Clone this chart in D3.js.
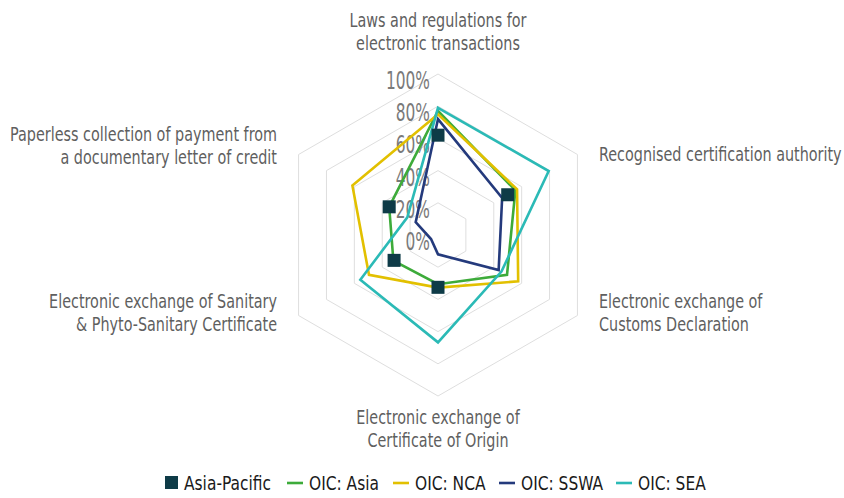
<!DOCTYPE html>
<html>
<head>
<meta charset="utf-8">
<script src="https://cdn.jsdelivr.net/npm/d3@7"></script>
<style>
  body { margin: 0; background: #fff; }
  svg text { font-family: "DejaVu Sans Condensed", "DejaVu Sans", sans-serif; }
</style>
</head>
<body>
<script>
const w = 844;
const h = 498;

// axes, clockwise from the top
const axes = [
  ["Laws and regulations for", "electronic transactions"],
  ["Recognised certification authority"],
  ["Electronic exchange of", "Customs Declaration"],
  ["Electronic exchange of", "Certificate of Origin"],
  ["Electronic exchange of Sanitary", "& Phyto-Sanitary Certificate"],
  ["Paperless collection of payment from", "a documentary letter of credit"]
];

const seriesNames = ["Asia-Pacific", "OIC: Asia", "OIC: NCA", "OIC: SSWA", "OIC: SEA"];

// values as share (0..1), same order as axes
const asiaPacific = [0.62, 0.50, null, 0.325, 0.315, 0.35];
const oicAsia = [0.77, 0.555, 0.495, 0.306, 0.32, 0.35];
const oicNCA = [0.75, 0.567, 0.575, 0.327, 0.495, 0.614];
const oicSSWA = [0.72, 0.46, 0.435, 0.12, 0.05, 0.16];
const oicSEA = [0.79, 0.794, 0.455, 0.667, 0.557, 0.22];

const ticks = [0, 0.2, 0.4, 0.6, 0.8, 1];

const colors = {
  "Asia-Pacific": "#0e3b47",
  "OIC: Asia": "#3dab3a",
  "OIC: NCA": "#e2c000",
  "OIC: SSWA": "#243a7c",
  "OIC: SEA": "#2bbab6"
};

const cx = 438;
const cy = 235;
const R = 161;

const r = d3.scaleLinear().domain([0, 1]).range([0, R]);
const angle = d3.scaleLinear().domain([0, axes.length]).range([0, 2 * Math.PI]);

function px(i, v) { return cx + r(v) * Math.sin(angle(i)); }
function py(i, v) { return cy - r(v) * Math.cos(angle(i)); }

const svg = d3.select("body").
append("svg").
attr("width", w).
attr("height", h);

// the original uses a narrow typeface, so squeeze text horizontally
function squeezeFactor(sample, size, target) {
  const t = svg.append("text").attr("font-size", size).text(sample);
  const len = t.node().getComputedTextLength();
  t.remove();
  return target / len;
}

const kCat = squeezeFactor("Paperless collection of payment from", 19, 267);
const kTick = squeezeFactor("100%", 24, 44);
const kLeg = squeezeFactor("Asia-Pacific", 19, 87);

// grid rings
const ring = d3.lineRadial().
angle((d, i) => angle(i)).
radius(d => r(d)).
curve(d3.curveLinearClosed);

svg.append("g").
attr("transform", "translate(" + cx + "," + cy + ")").
selectAll("path").
data(ticks.filter(t => t > 0)).
enter().
append("path").
attr("d", t => ring(axes.map(() => t))).
attr("fill", "none").
attr("stroke", "#dedede").
attr("stroke-width", 1);

// tick labels
svg.append("g").
selectAll("text").
data(ticks).
enter().
append("text").
attr("transform", "scale(" + kTick + ",1)").
attr("x", (cx - 8) / kTick).
attr("y", t => cy - r(t) + 15).
attr("text-anchor", "end").
attr("font-size", 24).
attr("fill", "#7a7a7a").
text(d3.format(".0%"));

// series lines
const lineSeries = [
  ["OIC: Asia", oicAsia],
  ["OIC: NCA", oicNCA],
  ["OIC: SSWA", oicSSWA],
  ["OIC: SEA", oicSEA]
];

svg.append("g").
attr("transform", "translate(" + cx + "," + cy + ")").
selectAll("path").
data(lineSeries).
enter().
append("path").
attr("d", d => ring(d[1])).
attr("fill", "none").
attr("stroke", d => colors[d[0]]).
attr("stroke-width", 2.6).
attr("stroke-linejoin", "miter");

// Asia-Pacific markers
const ms = 13;
svg.append("g").
selectAll("rect").
data(asiaPacific.map((v, i) => [i, v]).filter(d => d[1] !== null)).
enter().
append("rect").
attr("x", d => px(d[0], d[1]) - ms / 2).
attr("y", d => py(d[0], d[1]) - ms / 2).
attr("width", ms).
attr("height", ms).
attr("fill", colors["Asia-Pacific"]);

// category labels
const labelPos = [
  { x: 438, y: 27, anchor: "middle" },
  { x: 599, y: 161, anchor: "start" },
  { x: 599, y: 308, anchor: "start" },
  { x: 438, y: 424, anchor: "middle" },
  { x: 277, y: 308, anchor: "end" },
  { x: 277, y: 141, anchor: "end" }
];

const labels = svg.append("g").
selectAll("text").
data(axes).
enter().
append("text").
attr("transform", "scale(" + kCat + ",1)").
attr("y", (d, i) => labelPos[i].y).
attr("text-anchor", (d, i) => labelPos[i].anchor).
attr("font-size", 19).
attr("fill", "#5f5f5f");

labels.selectAll("tspan").
data((d, i) => d.map(t => ({ t: t, x: labelPos[i].x }))).
enter().
append("tspan").
attr("x", d => d.x / kCat).
attr("dy", (d, j) => j === 0 ? 0 : 23).
text(d => d.t);

// legend
const legendX = [165, 287, 393, 499, 616];
const legend = svg.append("g").
selectAll("g").
data(seriesNames).
enter().
append("g").
attr("transform", (d, i) => "translate(" + legendX[i] + ",483)");

legend.filter(d => d === "Asia-Pacific").
append("rect").
attr("x", 0).
attr("y", -7).
attr("width", 13).
attr("height", 13).
attr("fill", d => colors[d]);

legend.filter(d => d !== "Asia-Pacific").
append("line").
attr("x1", 0).
attr("x2", 16).
attr("y1", 0).
attr("y2", 0).
attr("stroke", d => colors[d]).
attr("stroke-width", 2.6);

legend.append("text").
attr("transform", "scale(" + kLeg + ",1)").
attr("x", d => (d === "Asia-Pacific" ? 19 : 22) / kLeg).
attr("y", 7).
attr("font-size", 19).
attr("fill", "#1a1a1a").
text(d => d);
</script>
</body>
</html>
